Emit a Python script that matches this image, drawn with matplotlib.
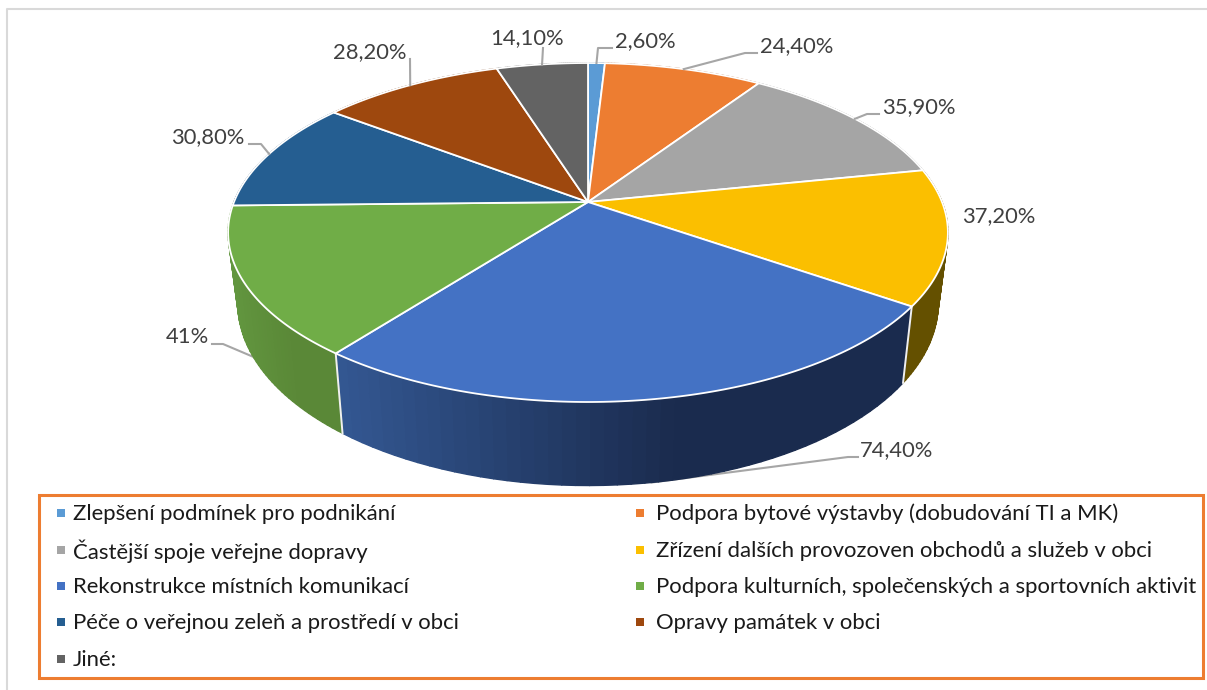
import numpy as np
import matplotlib
matplotlib.use('Agg')
import matplotlib.pyplot as plt
from matplotlib.collections import PolyCollection
from matplotlib.patches import Rectangle

plt.rcParams['font.family'] = ['Lato', 'DejaVu Sans']

categories = [
    'Zlepšení podmínek pro podnikání',
    'Podpora bytové výstavby (dobudování TI a MK)',
    'Častější spoje veřejne dopravy',
    'Zřízení dalších provozoven obchodů a služeb v obci',
    'Rekonstrukce místních komunikací',
    'Podpora kulturních, společenských a sportovních aktivit',
    'Péče o veřejnou zeleň a prostředí v obci',
    'Opravy památek v obci',
    'Jiné:',
]
values = [2.6, 24.4, 35.9, 37.2, 74.4, 41.0, 30.8, 28.2, 14.1]
value_labels = ['2,60%', '24,40%', '35,90%', '37,20%', '74,40%', '41%', '30,80%', '28,20%', '14,10%']
colors = ['#5B9BD5', '#ED7D31', '#A5A5A5', '#FBBF00', '#4472C4', '#70AD47', '#255E91', '#9E480E', '#636363']
side_left = ['#3F6C95', '#A65722', '#737373', '#645000', '#345893', '#62963F', '#1A4266', '#6E320A', '#454545']
side_right = ['#3F6C95', '#A65722', '#737373', '#645000', '#1A2B4E', '#5A8837', '#1A4266', '#6E320A', '#454545']

# pie geometry, in pixels
cx, cy = 588, 202
rx, ry = 354, 164
persp = 0.18
depth = 68.5
shrink = 0.973

# label text position and the leader elbow points after the rim anchor
label_pos = [(645, 41), (797, 46), (919, 107), (999, 216), (897, 450), (187, 337), (208, 137), (370, 52), (527, 38)]
leaders = [
    [(598, 48), (612, 48)],
    [(745, 53), (757, 53)],
    [(867, 114), (879, 114)],
    [],
    [(848, 457), (858, 457)],
    [(223, 344), (212, 344)],
    [(261, 144), (249, 144)],
    [(410, 59)],
    [(543, 48)],
]
on_bottom_rim = [False, False, False, False, True, True, False, False, False]


def rim(t):
    # t is clockwise from 12 o'clock, in radians
    x, y = np.sin(t), np.cos(t)
    w = 1 + persp * y
    return cx + rx * x / w, cy - ry * y / w, w


def rim_bottom(t):
    x, y, w = rim(t)
    return cx + shrink * (x - cx), y + depth / w


fig = plt.figure(figsize=(12.07, 6.9), dpi=100)
ax = fig.add_axes([0, 0, 1, 1])
ax.set_xlim(0, 1207)
ax.set_ylim(690, 0)
ax.axis('off')

ax.plot([7, 7, 1207], [690, 9, 9], color='#D9D9D9', lw=1.5)

edges = np.cumsum([0] + values) / sum(values) * 2 * np.pi

# side wall, as strips so the shading can change along it
for i in range(len(values)):
    ts = np.linspace(edges[i], edges[i + 1], 50)
    tx, ty, _ = rim(ts)
    bx, by = rim_bottom(ts)
    strips = [[(tx[j], ty[j]), (tx[j + 1], ty[j + 1]), (bx[j + 1], by[j + 1]), (bx[j], by[j])]
              for j in range(len(ts) - 1)]
    c0 = np.array(matplotlib.colors.to_rgb(side_left[i]))
    c1 = np.array(matplotlib.colors.to_rgb(side_right[i]))
    lo, hi = tx.min(), tx.max()
    frac = np.clip((tx[:-1] - lo) / (hi - lo) / 0.6, 0, 1)
    strip_colors = [c0 + (c1 - c0) * f for f in frac]
    ax.add_collection(PolyCollection(strips, facecolors=strip_colors, edgecolors=strip_colors, linewidths=1.0, zorder=2))

# seams on the wall at the slices that face the viewer
for t in edges[4:6]:
    tx, ty, _ = rim(t)
    bx, by = rim_bottom(t)
    ax.plot([tx, bx], [ty, by], color='#F0F0F0', lw=1.4, zorder=3)

# top face
for i in range(len(values)):
    ts = np.linspace(edges[i], edges[i + 1], 120)
    tx, ty, _ = rim(ts)
    ax.fill(np.r_[cx, tx], np.r_[cy, ty], facecolor=colors[i], edgecolor='white', lw=1.3, joinstyle='round', zorder=4)

# data labels and leaders
for i, lab in enumerate(value_labels):
    ax.text(label_pos[i][0], label_pos[i][1], lab, ha='center', va='center', color='#404040', fontsize=15.8, zorder=6)
    if not leaders[i]:
        continue
    mid = (edges[i] + edges[i + 1]) / 2
    if on_bottom_rim[i]:
        ax0, ay0 = rim_bottom(mid)
    else:
        ax0, ay0, _ = rim(mid)
    px = [ax0] + [p[0] for p in leaders[i]]
    py = [ay0] + [p[1] for p in leaders[i]]
    ax.plot(px, py, color='#A6A6A6', lw=1.5, zorder=1 if on_bottom_rim[i] else 5)

# legend in its orange box
ax.add_patch(Rectangle((39, 495), 1164, 183, facecolor='none', edgecolor='#ED7D31', lw=2.2, zorder=5))
row_y = [513, 550, 586, 622, 659]
col_x = [(61, 73), (640, 656)]
for i, name in enumerate(categories):
    mx, tx = col_x[i % 2]
    y = row_y[i // 2]
    ax.plot([mx], [y], marker='s', ms=5.6, color=colors[i], mew=0, zorder=6)
    ax.text(tx, y + 1, name, ha='left', va='center', color='#1A1A1A', fontsize=15.9, zorder=6)

fig.savefig('out.png', dpi=100)
